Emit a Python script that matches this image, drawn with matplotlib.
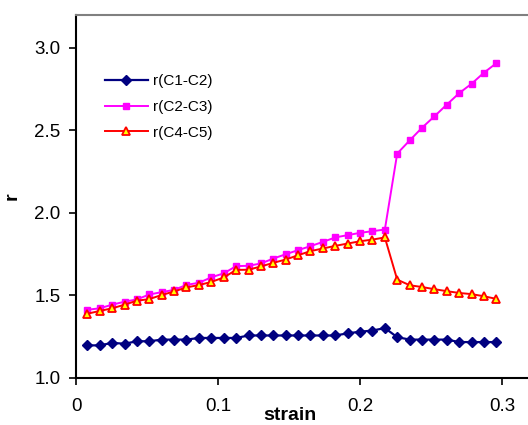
import matplotlib
matplotlib.use('Agg')
import matplotlib.pyplot as plt

plt.rcParams['font.family'] = ['Liberation Sans', 'DejaVu Sans']

# strain values (34 points)
strain = [0.0080, 0.0167, 0.0255, 0.0342, 0.0429, 0.0517, 0.0604, 0.0691, 0.0778,
          0.0866, 0.0953, 0.1040, 0.1128, 0.1215, 0.1302, 0.1390, 0.1477, 0.1564,
          0.1651, 0.1739, 0.1826, 0.1913, 0.2001, 0.2088, 0.2175, 0.2262, 0.2350,
          0.2437, 0.2524, 0.2611, 0.2699, 0.2786, 0.2873, 0.2961]

r_c1c2 = [1.195, 1.195, 1.21, 1.205, 1.22, 1.22, 1.23, 1.23, 1.23, 1.24, 1.24, 1.24,
          1.24, 1.255, 1.255, 1.255, 1.255, 1.255, 1.255, 1.255, 1.255, 1.268, 1.278,
          1.285, 1.30, 1.245, 1.23, 1.23, 1.23, 1.23, 1.215, 1.215, 1.215, 1.215]

r_c2c3 = [1.411, 1.420, 1.442, 1.460, 1.474, 1.504, 1.518, 1.532, 1.562, 1.575, 1.608,
          1.632, 1.676, 1.678, 1.692, 1.722, 1.748, 1.773, 1.797, 1.823, 1.850, 1.864,
          1.878, 1.888, 1.898, 2.359, 2.439, 2.516, 2.585, 2.656, 2.726, 2.783, 2.850,
          2.908]

r_c4c5 = [1.387, 1.404, 1.420, 1.442, 1.466, 1.476, 1.501, 1.522, 1.547, 1.561, 1.580,
          1.607, 1.653, 1.654, 1.674, 1.696, 1.716, 1.742, 1.767, 1.783, 1.799, 1.813,
          1.827, 1.837, 1.850, 1.594, 1.560, 1.549, 1.536, 1.524, 1.513, 1.506, 1.493,
          1.477]

labels = ['r(C1-C2)', 'r(C2-C3)', 'r(C4-C5)']
xticks = [0, 0.1, 0.2, 0.3]
xticklabels = ['0', '0.1', '0.2', '0.3']
yticks = [1.0, 1.5, 2.0, 2.5, 3.0]

W, H = 528, 425
fig = plt.figure(figsize=(W / 100, H / 100), dpi=100)
ax = fig.add_axes([76 / W, (H - 377.5) / H, 497 / W, 362.5 / H])

ax.plot(strain, r_c1c2, color='#000080', lw=1.6, marker='D', ms=4.8,
        mfc='#000080', mec='#000080', label=labels[0])
ax.plot(strain, r_c2c3, color='#FF00FF', lw=1.4, marker='s', ms=4.8,
        mfc='#FF00FF', mec='#FF00FF', label=labels[1])
ax.plot(strain, r_c4c5, color='#FF0000', lw=1.4, marker='^', ms=6,
        mfc='#FFFF00', mec='#FF0000', mew=1.3, label=labels[2])

ax.set_xlim(0, 0.35)
ax.set_ylim(1.0, 3.2)
ax.set_xticks(xticks)
ax.set_xticklabels(xticklabels)
ax.set_yticks(yticks)
ax.set_yticklabels(['%.1f' % v for v in yticks])

ax.tick_params(axis='x', direction='out', length=5, width=1.2, pad=10, labelsize=13.5)
ax.tick_params(axis='y', direction='out', length=5, width=1.2, pad=6, labelsize=13.5)

for s in ['left', 'bottom']:
    ax.spines[s].set_linewidth(1.5)
    ax.spines[s].set_color('black')
ax.spines['top'].set_color('#808080')
ax.spines['top'].set_linewidth(1.5)
ax.spines['right'].set_visible(False)

leg = ax.legend(loc='upper left', bbox_to_anchor=(105 / W, (H - 74) / H),
                bbox_transform=fig.transFigure, frameon=False, fontsize=11,
                handlelength=2.8, handletextpad=0.35, labelspacing=0.78,
                borderpad=0, borderaxespad=0)

fig.text(290 / W, 4.5 / H, 'strain', ha='center', va='baseline',
         fontsize=14, fontweight='bold')
fig.text(12 / W, (H - 196) / H, 'r', ha='center', va='center', rotation=90,
         fontsize=14, fontweight='bold')

fig.savefig('out.png', dpi=100)
